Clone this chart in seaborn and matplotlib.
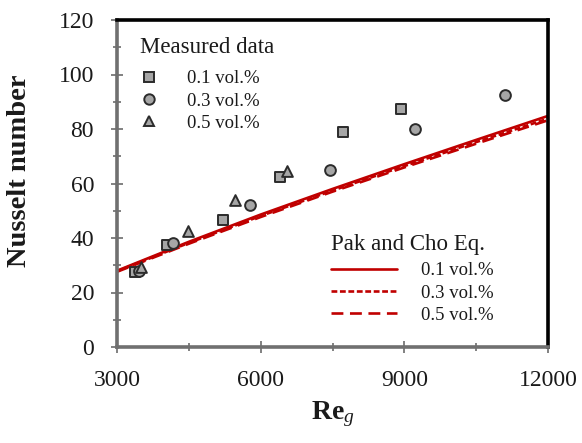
import matplotlib
matplotlib.use("Agg")
import matplotlib.pyplot as plt
import seaborn as sns
import pandas as pd
from matplotlib.lines import Line2D
from matplotlib.ticker import MultipleLocator

sns.set_style("white")
plt.rcParams['font.family'] = ['Liberation Serif', 'DejaVu Serif']
plt.rcParams['mathtext.fontset'] = 'custom'
plt.rcParams['mathtext.rm'] = 'Liberation Serif'
plt.rcParams['mathtext.bf'] = 'Liberation Serif:bold'
plt.rcParams['mathtext.it'] = 'Liberation Serif:italic'
plt.rcParams['text.color'] = '#1a1a1a'

# Measured data
re_01 = [3380, 4040, 5210, 6400, 7720, 8930]
nu_01 = [27.5, 37.4, 46.6, 62.4, 79.0, 87.3]
re_03 = [3450, 4170, 5780, 7450, 9220, 11100]
nu_03 = [28.0, 38.0, 52.0, 65.0, 80.0, 92.5]
re_05 = [3500, 4480, 5460, 6550]
nu_05 = [29.2, 42.5, 54.0, 64.6]

# Pak and Cho correlation
re_line = [3000, 4500, 6000, 7500, 9000, 10500, 12000]
pc_01 = [28.0, 38.6, 48.6, 58.0, 67.1, 76.0, 84.8]
pc_03 = [27.8, 38.2, 48.1, 57.4, 66.4, 75.2, 83.8]
pc_05 = [27.6, 37.9, 47.7, 57.0, 65.9, 74.6, 83.2]

labels = ["0.1 vol.%", "0.3 vol.%", "0.5 vol.%"]

fig = plt.figure(figsize=(5.82, 4.43), dpi=100)
ax = fig.add_axes([117/582, 1-347/443, (548-117)/582, (347-20)/443])

red = "#c00000"
line_styles = ["-", (0, (2.2, 1.0)), (0, (4.5, 2.5))]
for vals, ls in zip([pc_01, pc_03, pc_05], line_styles):
    df = pd.DataFrame({"Re": re_line, "Nu": vals})
    sns.lineplot(data=df, x="Re", y="Nu", ax=ax, color=red, lw=1.9,
                 linestyle=ls, zorder=2)

markers = ["s", "o", "^"]
face = "#a6a6a6"
edge = "#2b2b2b"
for rx, ny, mk in zip([re_01, re_03, re_05], [nu_01, nu_03, nu_05], markers):
    df = pd.DataFrame({"Re": rx, "Nu": ny})
    sns.scatterplot(data=df, x="Re", y="Nu", ax=ax, marker=mk, s=60,
                    color=face, edgecolor=edge, linewidth=1.4, zorder=3)

ax.set_xlim(3000, 12000)
ax.set_ylim(0, 120)
ax.xaxis.set_major_locator(MultipleLocator(3000))
ax.xaxis.set_minor_locator(MultipleLocator(1500))
ax.yaxis.set_major_locator(MultipleLocator(20))
ax.yaxis.set_minor_locator(MultipleLocator(10))
ax.tick_params(axis="both", which="both", bottom=True, left=True,
               top=False, right=False)
ax.tick_params(axis="both", which="major", direction="inout", length=9,
               width=1.3, color="#777777", labelsize=17, labelcolor="#1a1a1a")
ax.tick_params(axis="both", which="minor", direction="inout", length=6,
               width=1.3, color="#777777")
ax.tick_params(axis="y", which="major", pad=12)
ax.tick_params(axis="x", which="major", pad=12)

for side in ["left", "bottom"]:
    ax.spines[side].set_color("#707070")
    ax.spines[side].set_linewidth(2.6)
for side in ["top", "right"]:
    ax.spines[side].set_color("black")
    ax.spines[side].set_linewidth(2.6)

ax.set_xlabel(r"$\mathbf{Re}_\mathit{g}$", fontsize=20, labelpad=6,
              color="#1a1a1a")
ax.set_ylabel("Nusselt number", fontsize=20.5, fontweight="bold",
              color="#1a1a1a")
ax.yaxis.set_label_coords(-0.197, 0.54)

mh = [Line2D([], [], marker=m, linestyle="none", markersize=7.5,
             markerfacecolor=face, markeredgecolor=edge, markeredgewidth=1.4)
      for m in markers]
leg1 = ax.legend(mh, labels, title="Measured data", loc="upper left",
                 bbox_to_anchor=(0.035, 0.972), frameon=False,
                 fontsize=13.5, title_fontsize=16.5, alignment="left",
                 handlelength=1.0, handletextpad=1.55, labelspacing=0.28,
                 borderaxespad=0)
leg1._legend_box.sep = 9
ax.add_artist(leg1)

lh = [Line2D([], [], color=red, lw=1.9, linestyle=ls) for ls in line_styles]
leg2 = ax.legend(lh, labels, title="Pak and Cho Eq.", loc="upper left",
                 bbox_to_anchor=(0.48, 0.368), frameon=False,
                 fontsize=13.5, title_fontsize=16.5, alignment="left",
                 handlelength=3.5, handletextpad=1.3, labelspacing=0.28,
                 borderaxespad=0)
leg2._legend_box.sep = 5

fig.savefig("out.png", dpi=100, facecolor="white")
